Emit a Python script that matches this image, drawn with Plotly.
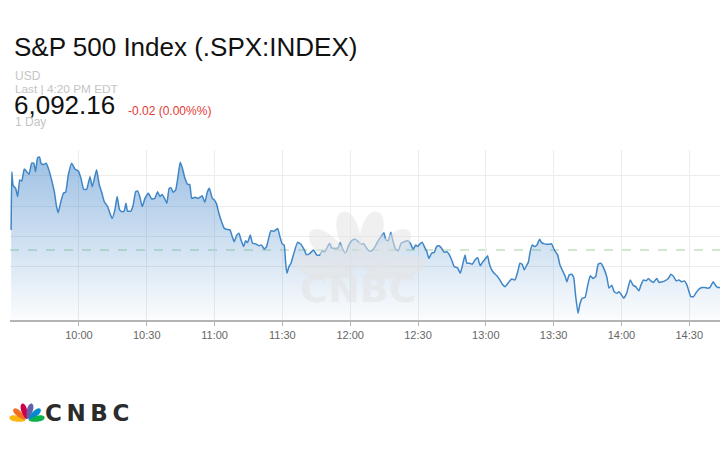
import numpy as np
import pandas as pd
import plotly.graph_objects as go

# intraday path: minutes after the 9:30 open, index level
minutes = [
    0, 0.3, 0.9, 2.0, 2.9, 3.8, 4.7, 5.8, 6.7, 7.9, 9.1, 10.0, 10.8, 11.7, 12.6, 13.2, 14.4, 15.5, 16.7, 17.9,
    19.1, 20.1, 20.8, 22.0, 23.1, 24.1, 25.3, 26.8, 28.2, 29.7, 30.9, 32.1, 33.4, 34.9, 35.9, 37.8, 39.0, 40.0, 41.2, 42.7,
    43.7, 44.7, 45.9, 46.9, 48.0, 49.2, 50.0, 50.8, 51.5, 53.0, 54.0, 55.1, 56.0, 56.9, 58.0, 59.2, 60.7, 62.2, 63.6, 64.8,
    65.8, 66.8, 68.0, 68.9, 69.9, 70.7, 71.7, 72.8, 73.7, 74.8, 75.7, 76.9, 78.1, 79.0, 79.9, 81.3, 82.8, 84.5, 85.7, 86.8,
    87.7, 89.0, 89.9, 90.9, 91.9, 93.1, 94.3, 95.3, 96.8, 97.8, 98.7, 99.8, 100.8, 101.7, 102.9, 103.7, 104.6, 105.8, 106.8, 108.2,
    109.6, 110.8, 112.0, 113.0, 114.1, 114.9, 116.4, 117.9, 118.9, 119.9, 120.8, 121.4, 122.0, 122.9, 123.8, 125.2, 126.7, 128.2, 129.7, 130.7,
    132.2, 133.8, 135.2, 136.5, 137.6, 138.8, 140.0, 140.9, 141.8, 143.3, 144.7, 145.6, 146.5, 148.0, 149.1, 150.6, 152.1, 153.6, 154.8, 156.0,
    157.1, 158.3, 159.5, 161.0, 162.1, 163.6, 164.9, 165.8, 166.8, 168.0, 169.0, 170.1, 171.3, 172.5, 173.9, 175.4, 176.6, 177.9, 179.0, 179.8,
    180.9, 181.9, 182.8, 183.8, 184.8, 186.0, 187.2, 188.2, 189.3, 190.5, 191.6, 192.7, 193.7, 194.9, 196.0, 197.5, 198.7, 199.7, 200.8, 201.6,
    202.8, 204.0, 205.2, 206.4, 207.5, 208.7, 209.7, 210.8, 211.5, 212.6, 213.7, 214.9, 216.2, 217.3, 218.5, 219.8, 221.4, 222.9, 224.1, 225.1,
    226.1, 227.0, 228.1, 228.8, 229.7, 230.5, 231.7, 232.6, 233.8, 234.7, 235.9, 237.0, 238.2, 239.1, 240.3, 241.8, 242.8, 243.8, 245.0, 245.9,
    246.8, 248.0, 248.9, 249.7, 250.8, 251.6, 252.7, 253.9, 255.1, 256.2, 257.4, 258.6, 259.7, 260.9, 262.1, 263.5, 264.5, 265.7, 266.8, 268.0,
    268.9, 270.1, 271.0, 272.3, 273.9, 275.1, 276.3, 277.7, 278.6, 279.8, 281.0, 281.9, 283.0, 284.2, 285.6, 286.6, 288.0, 289.2, 290.7, 291.9,
    293.1, 294.2, 295.4, 296.6, 297.8, 299.0, 299.9, 300.7, 301.9, 303.1, 304.3, 305.7, 306.9, 308.1, 309.1, 310.6, 311.7, 312.6, 313.6,
]
prices = [
    6098.8, 6118.0, 6113.4, 6112.5, 6109.8, 6115.3, 6114.9, 6118.9, 6118.2, 6117.1, 6120.8, 6120.8, 6118.0, 6122.6, 6122.8, 6120.8, 6120.4, 6120.8, 6118.6, 6115.3,
    6111.4, 6106.5, 6104.5, 6108.1, 6110.9, 6111.2, 6116.9, 6120.8, 6118.9, 6118.2, 6115.8, 6112.2, 6112.2, 6116.3, 6113.0, 6118.6, 6113.6, 6111.4, 6108.1, 6106.5,
    6104.3, 6102.6, 6105.4, 6109.8, 6105.4, 6104.8, 6105.0, 6107.6, 6105.0, 6105.0, 6107.0, 6111.4, 6111.6, 6109.8, 6106.5, 6109.2, 6110.9, 6109.0, 6109.2, 6111.4,
    6109.8, 6110.5, 6109.0, 6107.6, 6112.5, 6112.7, 6111.2, 6112.0, 6115.8, 6121.1, 6119.3, 6115.8, 6113.8, 6113.8, 6109.2, 6109.6, 6109.2, 6110.1, 6107.9, 6111.3,
    6112.5, 6109.2, 6108.7, 6107.3, 6104.3, 6101.5, 6099.3, 6099.0, 6098.8, 6096.6, 6094.9, 6097.1, 6097.7, 6095.5, 6093.3, 6095.2, 6094.6, 6097.1, 6094.4, 6094.2,
    6093.6, 6093.8, 6092.5, 6093.3, 6096.6, 6098.5, 6098.4, 6099.3, 6096.6, 6094.2, 6093.8, 6088.3, 6084.5, 6086.7, 6087.8, 6091.4, 6094.7, 6094.1, 6092.2, 6090.5,
    6091.1, 6092.2, 6090.5, 6090.5, 6091.9, 6091.6, 6093.3, 6094.4, 6092.9, 6092.7, 6092.9, 6094.7, 6092.9, 6091.1, 6093.3, 6095.2, 6095.8, 6094.9, 6094.1, 6094.3,
    6092.9, 6091.9, 6091.9, 6093.3, 6094.9, 6096.6, 6097.9, 6095.5, 6095.2, 6098.0, 6094.9, 6092.5, 6091.9, 6094.4, 6094.9, 6095.2, 6094.4, 6092.5, 6093.8, 6093.3,
    6094.2, 6094.7, 6093.3, 6091.9, 6089.4, 6091.1, 6091.4, 6093.3, 6093.6, 6092.7, 6091.4, 6091.6, 6090.8, 6088.9, 6086.7, 6086.3, 6084.5, 6087.2, 6090.5, 6087.8,
    6087.8, 6087.5, 6088.9, 6089.6, 6087.0, 6088.3, 6089.2, 6090.3, 6087.8, 6085.6, 6084.5, 6083.7, 6082.3, 6080.9, 6080.1, 6081.2, 6082.6, 6082.3, 6085.0, 6087.8,
    6087.5, 6085.6, 6087.2, 6088.1, 6091.9, 6093.8, 6093.3, 6093.8, 6095.7, 6094.6, 6094.2, 6094.1, 6094.1, 6094.2, 6092.2, 6090.5, 6087.2, 6085.6, 6083.7, 6081.7,
    6083.9, 6084.2, 6083.0, 6077.3, 6071.3, 6074.3, 6076.3, 6076.5, 6080.6, 6083.7, 6082.8, 6083.4, 6087.5, 6087.8, 6086.3, 6083.4, 6079.6, 6080.6, 6078.4, 6077.9,
    6078.4, 6077.3, 6076.3, 6077.9, 6082.3, 6080.6, 6080.1, 6078.7, 6080.6, 6082.3, 6082.0, 6082.8, 6082.0, 6081.5, 6082.8, 6081.5, 6081.7, 6082.0, 6082.8, 6084.2,
    6083.4, 6082.0, 6082.3, 6081.7, 6082.0, 6080.6, 6078.4, 6076.8, 6076.8, 6078.2, 6079.3, 6079.8, 6079.8, 6079.6, 6079.8, 6081.7, 6080.4, 6079.8, 6079.8,
]
assert len(minutes) == len(prices)

prev_close = 6092.18
last_price = "6,092.16"
change_text = "-0.02 (0.00%%)"
grid_levels = [6086.6, 6096.6, 6106.6, 6116.6]
tick_labels = ["10:00", "10:30", "11:00", "11:30", "12:00", "12:30", "13:00", "13:30", "14:00", "14:30"]
session_day = "2025-06-10"
y_range = [6069.1, 6125.15]
x_range_minutes = [-0.5, 313.6]

FONT = "Liberation Sans, Arial, sans-serif"

open_ts = pd.Timestamp(f"{session_day} 09:30")
times = open_ts + pd.to_timedelta(minutes, unit="min")
tick_vals = [pd.Timestamp(f"{session_day} {t}") for t in tick_labels]
x_range = [open_ts + pd.Timedelta(minutes=m) for m in x_range_minutes]


# plot area is 10..720 px wide, 150..320 px tall
def px_x(x):
    return (x - 10) / 710


def px_y(y):
    return (320 - y) / 170


def feather(bx, by, ang, off, length, width):
    t = np.linspace(0, 2 * np.pi, 30)
    a = np.radians(ang)
    ux, uy = np.cos(a), -np.sin(a)
    vx, vy = -uy, ux
    cx = bx + ux * (off + length / 2)
    cy = by + uy * (off + length / 2)
    half = np.sin(t) * width / 2 * (0.75 + 0.25 * np.cos(t))
    xs = cx + ux * np.cos(t) * length / 2 + vx * half
    ys = cy + uy * np.cos(t) * length / 2 + vy * half
    pts = [f"{px_x(x):.5f},{px_y(y):.5f}" for x, y in zip(xs, ys)]
    return "M" + " L".join(pts) + " Z"


def peacock(bx, by, scale, colors, layer):
    angles = [168, 138, 105, 75, 42, 12]
    shapes = []
    for ang, col in zip(angles, colors):
        shapes.append(dict(
            type="path", xref="paper", yref="paper",
            path=feather(bx, by, ang, 2 * scale, 16 * scale, 7.5 * scale),
            fillcolor=col, line=dict(width=0), layer=layer,
        ))
    return shapes


fig = go.Figure()
fig.add_trace(go.Scatter(
    x=times, y=prices,
    mode="lines",
    line=dict(color="#3f86c6", width=1.5, shape="spline", smoothing=0.4),
    fill="tozeroy",
    fillgradient=dict(
        type="vertical",
        start=y_range[0], stop=y_range[1],
        colorscale=[[0, "rgba(61,130,200,0.02)"], [1, "rgba(61,130,200,0.52)"]],
    ),
    hoverinfo="skip",
    showlegend=False,
))

shapes = [dict(
    type="line", xref="paper", yref="y", x0=0, x1=1, y0=prev_close, y1=prev_close,
    line=dict(color="#9ed49c", width=1, dash="dash"), layer="below",
)]
nbc = ["#fcb711", "#f37021", "#cc004c", "#6460aa", "#0089d0", "#0db14b"]
shapes += peacock(27, 421, 1.0, nbc, "above")
shapes += peacock(360, 276, 3.7, ["rgba(228,228,228,0.55)"] * 6, "above")

annotations = [
    dict(text="S&P 500 Index (.SPX:INDEX)", x=px_x(12), y=px_y(47), font=dict(size=26, color="#111111")),
    dict(text="USD", x=px_x(13), y=px_y(76), font=dict(size=12, color="#c4c4c4")),
    dict(text="Last | 4:20 PM EDT", x=px_x(13), y=px_y(89), font=dict(size=11.8, color="#c4c4c4")),
    dict(text=last_price, x=px_x(12), y=px_y(105), font=dict(size=26, color="#111111")),
    dict(text=change_text, x=px_x(126), y=px_y(111), font=dict(size=12, color="#e53935")),
    dict(text="1 Day", x=px_x(13), y=px_y(122), font=dict(size=12, color="#c4c4c4")),
    dict(text="CNBC", x=px_x(298), y=px_y(289), font=dict(size=38, color="rgba(228,228,228,0.6)",
                                                          family="DejaVu Sans", weight="bold")),
    dict(text="C\u2009N\u2009B\u2009C", x=px_x(43), y=px_y(413), font=dict(size=23, color="#2b2b2b",
                                                                            family="DejaVu Sans", weight="bold")),
]
for a in annotations:
    a.update(xref="paper", yref="paper", xanchor="left", yanchor="middle", showarrow=False)
    a["font"].setdefault("family", FONT)

fig.update_layout(
    width=720, height=450,
    margin=dict(l=10, r=0, t=150, b=130, autoexpand=False),
    paper_bgcolor="white", plot_bgcolor="white",
    shapes=shapes,
    annotations=annotations,
    font=dict(family=FONT),
    xaxis=dict(
        range=x_range,
        tickvals=tick_vals, ticktext=tick_labels,
        showgrid=True, gridcolor="#ececec", gridwidth=1,
        showline=True, linecolor="#b4b4b4", linewidth=2,
        ticks="outside", ticklen=4, tickcolor="#b4b4b4",
        tickfont=dict(size=11, color="#666666"),
        zeroline=False, fixedrange=True,
    ),
    yaxis=dict(
        range=y_range,
        tickvals=grid_levels,
        showticklabels=False,
        showgrid=True, gridcolor="#ececec", gridwidth=1,
        zeroline=False, showline=False, fixedrange=True,
    ),
)

# page body has a default 8px margin; drop it so the figure sits at 0,0
fig.write_html(
    "out.html",
    config={"displayModeBar": False},
    post_script="document.body.style.margin='0px';",
)
